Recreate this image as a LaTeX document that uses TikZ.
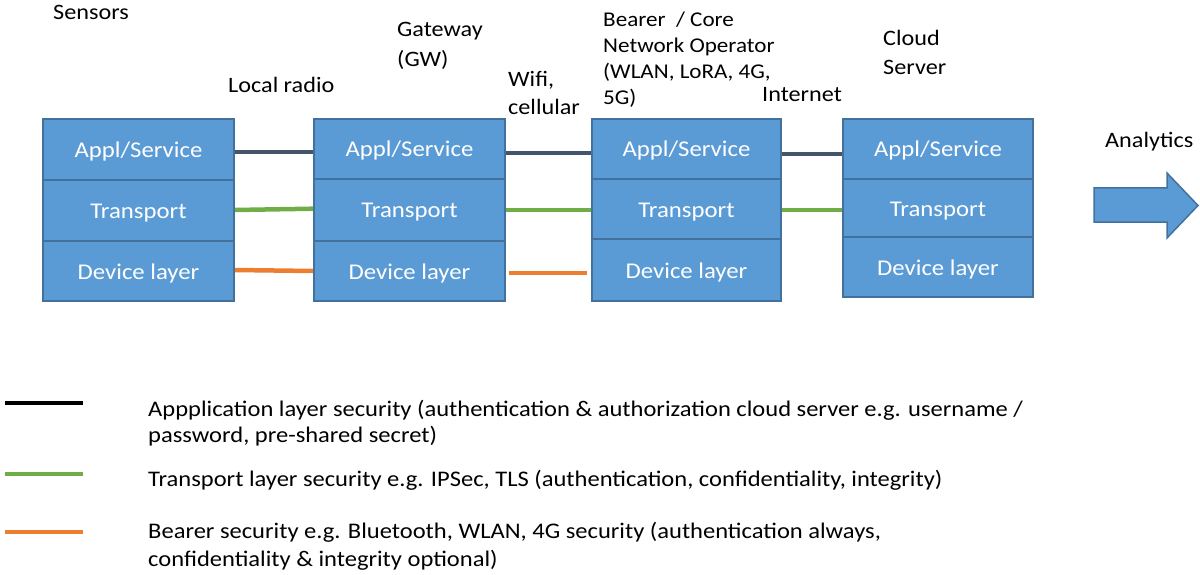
\documentclass[tikz,border=0pt]{standalone}
\usepackage{fontspec}
\setmainfont{Carlito}[FakeStretch=1.1]
\definecolor{boxfill}{HTML}{5B9BD5}
\definecolor{boxline}{HTML}{41719C}
\definecolor{appl}{HTML}{44546A}
\definecolor{trans}{HTML}{70AD47}
\definecolor{bear}{HTML}{ED7D31}
\tikzset{
  layer/.style={draw=boxline, line width=2pt, fill=boxfill, text=white, anchor=north west,
    minimum width=191pt, inner sep=0pt, text height=16pt, text depth=0pt, font=\fontsize{22.5}{26}\selectfont},
  lbl/.style={anchor=base west, align=left, inner sep=0pt, text=black, font=\fontsize{22}{28}\selectfont},
  leg/.style={anchor=base west, align=left, inner sep=0pt, font=\fontsize{22.3}{26}\selectfont},
  conn/.style={line width=4.5pt},
}
\begin{document}
\begin{tikzpicture}[x=1pt,y=-1pt]
\useasboundingbox (0,0) rectangle (1200,575);
% box 1
\node[layer, minimum height=61pt] (s1a) at (42,118) {Appl/Service};
\node[layer, minimum height=61pt] (s1t) at (42,179) {Transport};
\node[layer, minimum height=60pt] (s1d) at (42,240) {Device layer};
% box 2
\node[layer, minimum height=60pt] (s2a) at (313,118) {Appl/Service};
\node[layer, minimum height=62pt] (s2t) at (313,178) {Transport};
\node[layer, minimum height=60pt] (s2d) at (313,240) {Device layer};
% box 3
\node[layer, minimum width=189pt, minimum height=60pt] (s3a) at (591,118) {Appl/Service};
\node[layer, minimum width=189pt, minimum height=60pt] (s3t) at (591,178) {Transport};
\node[layer, minimum width=189pt, minimum height=62pt] (s3d) at (591,238) {Device layer};
% box 4
\node[layer, minimum width=190pt, minimum height=60pt] (s4a) at (842,118) {Appl/Service};
\node[layer, minimum width=190pt, minimum height=58pt] (s4t) at (842,178) {Transport};
\node[layer, minimum width=190pt, minimum height=60pt] (s4d) at (842,236) {Device layer};
% connectors (yshift is upward on the page)
\draw[conn, appl] ([yshift=-2.5pt]s1a.east) -- ([yshift=-3pt]s2a.west);
\draw[conn, trans] ([yshift=0.5pt]s1t.east) -- ([yshift=1.3pt]s2t.west);
\draw[conn, bear] ([yshift=1pt]s1d.east) -- ([yshift=0pt]s2d.west);
\draw[conn, appl] ([yshift=-4pt]s2a.east) -- ([yshift=-4pt]s3a.west);
\draw[conn, trans] ([yshift=0pt]s2t.east) -- ([yshift=-1pt]s3t.west);
\draw[conn, bear] ([xshift=3pt,yshift=-2pt]s2d.east) -- ([xshift=-4pt,yshift=-3pt]s3d.west);
\draw[conn, appl] ([yshift=-5pt]s3a.east) -- ([yshift=-5pt]s4a.west);
\draw[conn, trans] ([yshift=-1pt]s3t.east) -- ([yshift=-2pt]s4t.west);
% arrow
\draw[draw=boxline, line width=1.5pt, fill=boxfill]
  (1094,188) -- (1167,188) -- (1167,173) -- (1198,205.5) -- (1167,238) -- (1167,222) -- (1094,222) -- cycle;
% labels (base = last line)
\node[lbl] (lsens) at (53,19.5) {Sensors};
\node[lbl] (lloc) at (228,93) {Local radio};
\node[lbl, font=\fontsize{22}{30}\selectfont] (lgw) at (397,67) {Gateway\\(GW)};
\node[lbl, font=\fontsize{22}{28}\selectfont] (lwifi) at (508,115) {Wifi,\\cellular};
\node[lbl, font=\fontsize{21}{26}\selectfont] (lbear) at (603,105) {Bearer~ / Core\\Network Operator\\(WLAN, LoRA, 4G,\\5G)};
\node[lbl] (linet) at (762,102) {Internet};
\node[lbl, font=\fontsize{22}{29}\selectfont] (lcloud) at (883,75) {Cloud\\Server};
\node[lbl] (lana) at (1105,148) {Analytics};
% legend
\coordinate (k1a) at (5,403); \coordinate (k1b) at (83,403);
\coordinate (k2a) at (5,474); \coordinate (k2b) at (83,474);
\coordinate (k3a) at (5,532); \coordinate (k3b) at (83,532);
\draw[conn, black] (k1a) -- (k1b);
\draw[conn, trans] (k2a) -- (k2b);
\draw[conn, bear] (k3a) -- (k3b);
\node[leg] (t1) at (148,442) {Appplication layer security (authentication \& authorization cloud server e.g. username /\\password, pre-shared secret)};
\node[leg] (t2) at (148,486) {Transport layer security e.g. IPSec, TLS (authentication, confidentiality, integrity)};
\node[leg, font=\fontsize{22.3}{28}\selectfont] (t3) at (148,566) {Bearer security e.g. Bluetooth, WLAN, 4G security (authentication always,\\confidentiality \& integrity optional)};
\end{tikzpicture}
\end{document}
